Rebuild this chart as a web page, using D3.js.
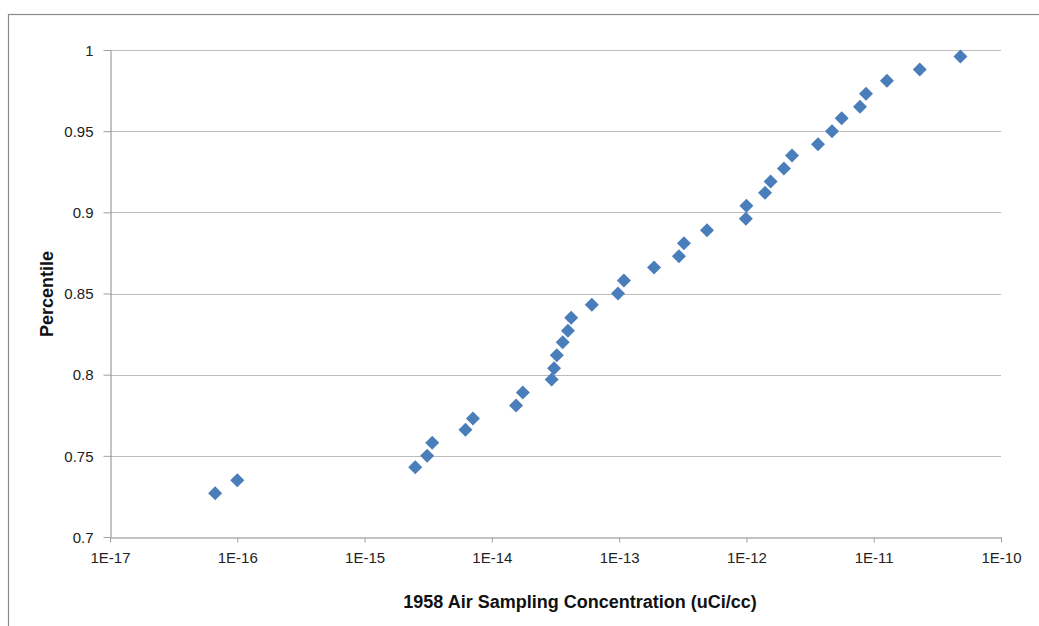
<!DOCTYPE html>
<html>
<head>
<meta charset="utf-8">
<script src="https://cdn.jsdelivr.net/npm/d3@7"></script>
<style>
  body { margin: 0; background: #fff; }
  svg { display: block; font-family: "Liberation Sans", Arial, sans-serif; }
</style>
</head>
<body>
<svg width="1039" height="626"></svg>
<script>
// concentration (uCi/cc)
var concentration = [6.7e-17, 1.0e-16, 2.5e-15, 3.1e-15, 3.4e-15, 6.2e-15, 7.1e-15,
  1.55e-14, 1.75e-14, 2.95e-14, 3.08e-14, 3.24e-14, 3.6e-14, 3.96e-14, 4.2e-14,
  6.1e-14, 9.8e-14, 1.09e-13, 1.88e-13, 2.95e-13, 3.23e-13, 4.9e-13, 9.9e-13,
  1.0e-12, 1.4e-12, 1.55e-12, 1.97e-12, 2.28e-12, 3.65e-12, 4.7e-12, 5.6e-12,
  7.8e-12, 8.7e-12, 1.27e-11, 2.3e-11, 4.8e-11];
var percentile = [0.727, 0.735, 0.743, 0.750, 0.758, 0.766, 0.773, 0.781, 0.789,
  0.797, 0.804, 0.812, 0.820, 0.827, 0.835, 0.843, 0.850, 0.858, 0.866, 0.873,
  0.881, 0.889, 0.896, 0.904, 0.912, 0.919, 0.927, 0.935, 0.942, 0.950, 0.958,
  0.965, 0.973, 0.981, 0.988, 0.996];
var xTicks = [1e-17, 1e-16, 1e-15, 1e-14, 1e-13, 1e-12, 1e-11, 1e-10];
var xTickLabels = ["1E-17", "1E-16", "1E-15", "1E-14", "1E-13", "1E-12", "1E-11", "1E-10"];
var yTicks = [0.7, 0.75, 0.8, 0.85, 0.9, 0.95, 1];
var yTickLabels = ["0.7", "0.75", "0.8", "0.85", "0.9", "0.95", "1"];

var svg = d3.select("svg");

// outer chart frame
svg.append("rect")
  .attr("x", 8.5).attr("y", 14.5)
  .attr("width", 1100).attr("height", 700)
  .attr("fill", "none").attr("stroke", "#898989").attr("stroke-width", 1.2);

var x = d3.scaleLog().domain([1e-17, 1e-10]).range([110, 1001]);
var y = d3.scaleLinear().domain([0.7, 1]).range([537, 50]);

// horizontal gridlines
svg.append("g").selectAll("line")
  .data(yTicks.slice(1))
  .enter().append("line")
  .attr("x1", 110).attr("x2", 1001)
  .attr("y1", function(d) { return Math.round(y(d)) + 0.5; })
  .attr("y2", function(d) { return Math.round(y(d)) + 0.5; })
  .attr("stroke", "#bcbcbc").attr("stroke-width", 1.2);

// x axis
var xAxis = svg.append("g")
  .attr("transform", "translate(0," + (Math.round(y(0.7)) + 0.5) + ")")
  .call(d3.axisBottom(x).tickValues(xTicks)
    .tickFormat(function(d, i) { return xTickLabels[i]; })
    .tickSize(5).tickSizeOuter(0).tickPadding(10));

// y axis
var yAxis = svg.append("g")
  .attr("transform", "translate(110.5,0)")
  .call(d3.axisLeft(y).tickValues(yTicks)
    .tickFormat(function(d, i) { return yTickLabels[i]; })
    .tickSize(7).tickSizeOuter(0).tickPadding(10));

[xAxis, yAxis].forEach(function(a) {
  a.select(".domain").attr("stroke", "#888888");
  a.selectAll(".tick line").attr("stroke", "#a0a0a0");
  a.selectAll(".tick text")
    .attr("fill", "#222")
    .style("font-size", "15px")
    .style("font-family", "'Liberation Sans', Arial, sans-serif");
});
yAxis.selectAll(".tick text").attr("dy", "0.35em");

// diamond markers
var diamond = d3.symbol().type(d3.symbolDiamond2).size(125);
svg.append("g").selectAll("path")
  .data(concentration)
  .enter().append("path")
  .attr("d", diamond)
  .attr("transform", function(d, i) {
    return "translate(" + x(d) + "," + y(percentile[i]) + ")";
  })
  .attr("fill", "#4a7ebb");

// axis titles
svg.append("text")
  .attr("x", 580).attr("y", 608)
  .attr("text-anchor", "middle")
  .style("font-size", "18px").style("font-weight", "bold")
  .attr("fill", "#111")
  .text("1958 Air Sampling Concentration (uCi/cc)");

svg.append("text")
  .attr("transform", "translate(53,294) rotate(-90)")
  .attr("text-anchor", "middle")
  .style("font-size", "18px").style("font-weight", "bold")
  .attr("fill", "#111")
  .text("Percentile");
</script>
</body>
</html>
